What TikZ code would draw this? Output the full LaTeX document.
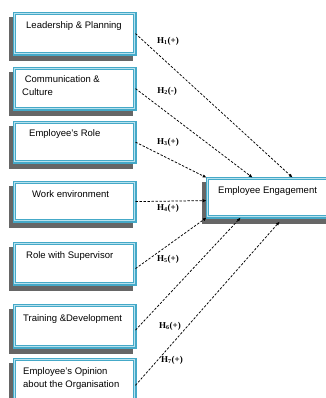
\documentclass[tikz,border=0pt]{standalone}
\usepackage{fontspec}
\setmainfont{Liberation Serif}
\setsansfont{Liberation Sans}
\usetikzlibrary{arrows.meta,shadows,calc}
\definecolor{frameblue}{HTML}{45A9C8}
\definecolor{framelight}{HTML}{B8E2EE}
\definecolor{shadowgray}{HTML}{666666}
\begin{document}
\begin{tikzpicture}[x=1pt,y=-1pt,
  box/.style={draw=frameblue, double=framelight, double distance=0.9pt, line width=1.2pt,
    fill=white, minimum width=120.6pt, anchor=north west, inner sep=0pt,
    general shadow={shadow xshift=-4pt, shadow yshift=-5.5pt, fill=shadowgray,
      draw=shadowgray, line width=3.3pt}},
  boxtext/.style={anchor=base west, inner sep=0pt, align=left,
    font=\sffamily\fontsize{9.5}{13}\selectfont},
  hyp/.style={inner sep=0pt, font=\fontsize{9}{10}\selectfont\bfseries},
  link/.style={draw=black, line width=0.75pt, dash pattern=on 2.4pt off 1.6pt,
    -{Latex[length=4pt,width=3.2pt]}}]
\useasboundingbox (0,0) rectangle (325,398);
% source boxes
\node[box, minimum height=40.6pt] (b1) at (13.7,12.7) {};
\node[box, minimum height=40.6pt] (b2) at (13.7,67.7) {};
\node[box, minimum height=39.6pt] (b3) at (13.7,121.7) {};
\node[box, minimum height=38.6pt] (b4) at (13.7,181.7) {};
\node[box, minimum height=40.6pt] (b5) at (13.7,242.7) {};
\node[box, minimum height=41.6pt] (b6) at (13.7,304.7) {};
\node[box, minimum height=44pt] (b7) at (13.7,358.7) {};
% target box
\node[box, minimum width=130pt, minimum height=38.6pt] (e) at (206.7,177.7) {};
% texts (base = baseline of the last line)
\node[boxtext] (t1) at (26,28.5) {Leadership \& Planning};
\node[boxtext] (t2) at (22,96) {\ Communication \&\\Culture};
\node[boxtext] (t3) at (29,137) {Employee’s Role};
\node[boxtext] (t4) at (32,197) {Work environment};
\node[boxtext] (t5) at (26,258.5) {Role with Supervisor};
\node[boxtext] (t6) at (23,321) {Training \&Development};
\node[boxtext] (t7) at (23,387) {Employee’s Opinion\\about the Organisation};
\node[boxtext] (te) at (218,193) {Employee Engagement};
% links
\draw[link] (b1.east) -- ($(e.north west)+(86,0)$);
\draw[link] (b2.east) -- ($(e.north west)+(46,0)$);
\draw[link] (b3.east) -- (e.north west);
\draw[link] (b4.east) -- ($(e.west)+(0,3)$);
\draw[link] ($(b5.east)+(0,5)$) -- (e.south west);
\draw[link] ($(b6.east)+(0,4)$) -- ($(e.south west)+(34,0)$);
\draw[link] ($(b7.east)+(0,4)$) -- ($(e.south west)+(73,4)$);
% hypothesis labels
\node[hyp] (h1) at (168,41) {H\textsubscript{1}(+)};
\node[hyp] (h2) at (167,91) {H\textsubscript{2}(-)};
\node[hyp] (h3) at (168,142) {H\textsubscript{3}(+)};
\node[hyp] (h4) at (168,208) {H\textsubscript{4}(+)};
\node[hyp] (h5) at (168,259) {H\textsubscript{5}(+)};
\node[hyp] (h6) at (170,326) {H\textsubscript{6}(+)};
\node[hyp] (h7) at (172,360) {H\textsubscript{7}(+)};
\end{tikzpicture}
\end{document}
